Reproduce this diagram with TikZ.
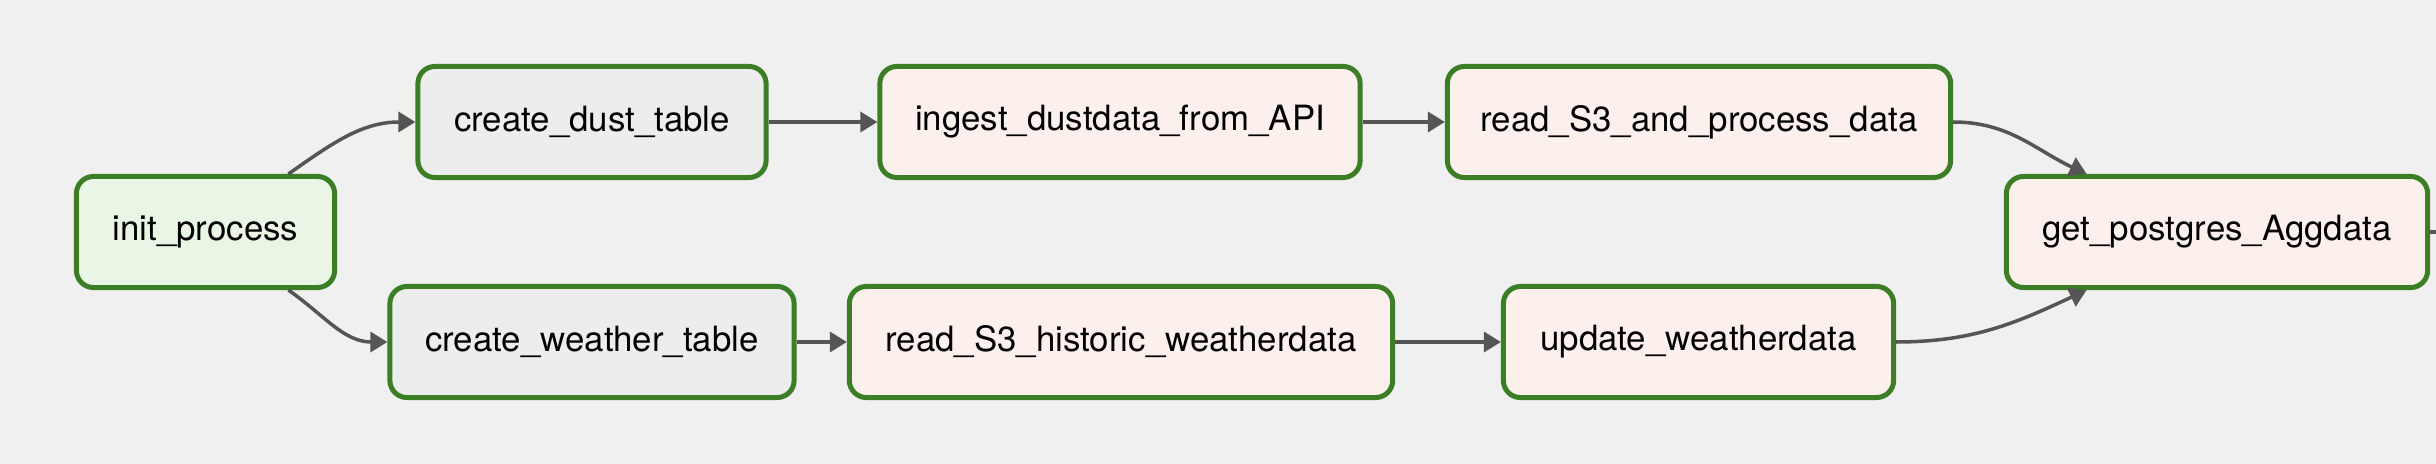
\documentclass[tikz,border=0pt]{standalone}
\usepackage{fontspec}
\setmainfont{TeX Gyre Heros}
\usetikzlibrary{arrows.meta}
\definecolor{bggray}{HTML}{F0F0F0}
\definecolor{okgreen}{HTML}{3B7E26}
\definecolor{dummyfill}{HTML}{EAF6E5}
\definecolor{sqlfill}{HTML}{EDEDED}
\definecolor{pyfill}{HTML}{FBF0EC}
\definecolor{edgegray}{HTML}{555555}
\begin{document}
\begin{tikzpicture}[x=0.01cm, y=-0.01cm,
    task/.style={draw=okgreen, line width=0.05cm, rounded corners=0.17cm,
      minimum height=1.11cm, text=black, font=\fontsize{9.9}{12}\selectfont},
    dummytask/.style={task, fill=dummyfill},
    sqltask/.style={task, fill=sqlfill},
    pytask/.style={task, fill=pyfill},
    edge/.style={draw=edgegray, line width=0.035cm,
      -{Triangle[length=0.17cm, width=0.2cm]}}]
  \useasboundingbox (0,0) rectangle (2436,464);
  \fill[bggray] (0,0) rectangle (2436,464);

  % tasks
  \node[dummytask, minimum width=2.58cm] (init) at (205.5,232) {init\_process};
  \node[sqltask, minimum width=3.48cm] (dust) at (592,122) {create\_dust\_table};
  \node[pytask, minimum width=4.80cm] (ingest) at (1120,122) {ingest\_dustdata\_from\_API};
  \node[pytask, minimum width=5.03cm] (readproc) at (1699,122) {read\_S3\_and\_process\_data};
  \node[sqltask, minimum width=4.04cm] (weather) at (592,342) {create\_weather\_table};
  \node[pytask, minimum width=5.43cm] (historic) at (1121,342) {read\_S3\_historic\_weatherdata};
  \node[pytask, minimum width=3.90cm] (update) at (1698.5,342) {update\_weatherdata};
  \node[pytask, minimum width=4.21cm] (getpg) at (2217,232) {get\_postgres\_Aggdata};
  \coordinate (offright) at (2436,232);

  % dependencies
  \draw[edge] (init.35) to[out=35, in=180] (dust.west);
  \draw[edge] (init.-35) to[out=-35, in=180] (weather.west);
  \draw[edge] (dust) -- (ingest);
  \draw[edge] (ingest) -- (readproc);
  \draw[edge] (weather) -- (historic);
  \draw[edge] (historic) -- (update);
  \draw[edge] (readproc.east) to[out=0, in=155] (getpg.156);
  \draw[edge] (update.east) to[out=0, in=-155] (getpg.-156);
  \draw[draw=edgegray, line width=0.035cm] (getpg.east) -- (offright);
\end{tikzpicture}
\end{document}
